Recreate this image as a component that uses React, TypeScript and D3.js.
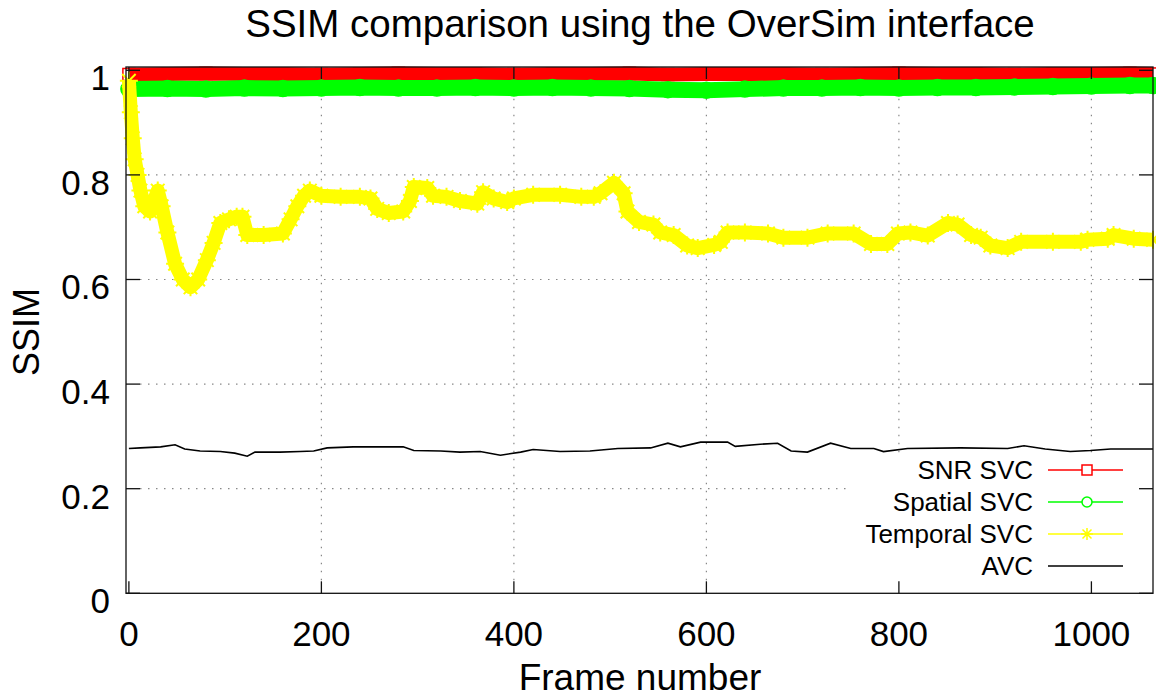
import { useEffect, useRef } from 'react';
import * as d3 from 'd3';

// Frame numbers / SSIM values
const temporalFrames = [0, 2, 4, 6, 9, 12, 16, 22, 30, 34, 40, 48, 56, 64, 72, 81, 88, 95, 104, 112, 118, 123, 140, 160, 168, 175, 182, 188, 200, 220, 240, 251, 258, 270, 285, 292, 296, 310, 316, 330, 344, 362, 368, 379, 393, 400, 420, 448, 470, 483, 490, 504, 514, 518, 530, 545, 552, 566, 580, 591, 608, 615, 622, 640, 664, 680, 705, 726, 753, 771, 788, 799, 812, 830, 851, 861, 875, 885, 895, 913, 927, 960, 989, 996, 1017, 1023, 1044, 1064];
const temporalSSIM = [0.98, 0.92, 0.87, 0.83, 0.8, 0.77, 0.74, 0.73, 0.77, 0.74, 0.69, 0.63, 0.6, 0.585, 0.6, 0.637, 0.67, 0.708, 0.715, 0.72, 0.72, 0.685, 0.685, 0.688, 0.715, 0.74, 0.76, 0.77, 0.76, 0.758, 0.758, 0.755, 0.735, 0.727, 0.73, 0.75, 0.777, 0.775, 0.76, 0.758, 0.75, 0.745, 0.767, 0.755, 0.748, 0.755, 0.762, 0.762, 0.758, 0.758, 0.765, 0.785, 0.765, 0.73, 0.71, 0.705, 0.69, 0.685, 0.665, 0.66, 0.666, 0.672, 0.69, 0.69, 0.688, 0.68, 0.68, 0.688, 0.688, 0.668, 0.668, 0.688, 0.69, 0.684, 0.708, 0.705, 0.685, 0.68, 0.665, 0.66, 0.672, 0.672, 0.672, 0.676, 0.678, 0.685, 0.678, 0.676];

const avcFrames = [0, 12, 33, 48, 58, 74, 95, 110, 123, 131, 157, 178, 192, 206, 233, 261, 285, 296, 324, 344, 365, 386, 407, 420, 448, 479, 508, 542, 560, 573, 594, 622, 630, 656, 674, 688, 705, 729, 750, 774, 784, 809, 864, 913, 930, 952, 978, 999, 1020, 1064];
const avcSSIM = [0.277, 0.278, 0.28, 0.284, 0.276, 0.272, 0.271, 0.268, 0.262, 0.27, 0.27, 0.271, 0.272, 0.278, 0.28, 0.28, 0.28, 0.273, 0.272, 0.27, 0.271, 0.264, 0.27, 0.275, 0.271, 0.272, 0.277, 0.278, 0.287, 0.28, 0.289, 0.289, 0.281, 0.285, 0.287, 0.272, 0.27, 0.287, 0.277, 0.277, 0.271, 0.277, 0.278, 0.277, 0.282, 0.276, 0.271, 0.273, 0.276, 0.276];

const bandFrames = [0, 40, 80, 120, 160, 200, 240, 280, 320, 360, 400, 440, 480, 520, 560, 600, 640, 680, 720, 760, 800, 840, 880, 920, 960, 1000, 1040, 1064];
const snrSSIM = [0.992, 0.993, 0.994, 0.993, 0.993, 0.992, 0.993, 0.994, 0.993, 0.993, 0.992, 0.993, 0.993, 0.994, 0.992, 0.993, 0.993, 0.993, 0.992, 0.993, 0.994, 0.993, 0.993, 0.992, 0.993, 0.993, 0.994, 0.993];
const spatialSSIM = [0.964, 0.965, 0.964, 0.966, 0.965, 0.966, 0.967, 0.966, 0.966, 0.967, 0.966, 0.967, 0.966, 0.965, 0.963, 0.962, 0.964, 0.966, 0.966, 0.967, 0.966, 0.967, 0.967, 0.968, 0.969, 0.97, 0.971, 0.971];

const xTicks = [0, 200, 400, 600, 800, 1000];
const yTicks = [0, 0.2, 0.4, 0.6, 0.8, 1];
const seriesNames = ['SNR SVC', 'Spatial SVC', 'Temporal SVC', 'AVC'];

const FONT = '"Liberation Sans", Arial, sans-serif';

export default function App() {
  const ref = useRef<SVGSVGElement>(null);

  useEffect(() => {
    if (!ref.current) return;
    const svg = d3.select(ref.current);
    svg.selectAll('*').remove();

    const left = 126, right = 1153, top = 67, bottom = 593.3;
    const x = d3.scaleLinear().domain([-3, 1064]).range([left, right]);
    const y = d3.scaleLinear().domain([0, 1.0063]).range([bottom, top]);

    svg.append('rect').attr('width', 1156).attr('height', 698).attr('fill', '#fff');

    // grid
    const grid = svg.append('g').attr('stroke', '#888').attr('stroke-width', 1.2).attr('stroke-dasharray', '1.5,6.5');
    xTicks.filter(t => t > 0).forEach(t => {
      grid.append('line').attr('x1', x(t)).attr('x2', x(t)).attr('y1', bottom - 13).attr('y2', top + 13);
    });
    yTicks.filter(t => t > 0 && t < 1).forEach(t => {
      grid.append('line').attr('x1', left + 14).attr('x2', right - 14).attr('y1', y(t)).attr('y2', y(t));
    });

    const pts = (fr: number[], vals: number[]) => fr.map((f, i) => [f, vals[i]] as [number, number]);
    const line = d3.line<[number, number]>().x(d => x(d[0])).y(d => y(d[1]));

    // SNR SVC (red squares)
    const snr = pts(bandFrames, snrSSIM);
    svg.append('path').attr('d', line(snr)).attr('fill', 'none').attr('stroke', '#ff0000').attr('stroke-width', 14);
    svg.selectAll('.sq').data(snr).enter().append('rect')
      .attr('x', d => x(d[0]) - 6).attr('y', d => y(d[1]) - 6).attr('width', 12).attr('height', 12)
      .attr('fill', 'none').attr('stroke', '#ff0000').attr('stroke-width', 1.5);

    // Spatial SVC (green circles)
    const spa = pts(bandFrames, spatialSSIM);
    svg.append('path').attr('d', line(spa)).attr('fill', 'none').attr('stroke', '#00ff00').attr('stroke-width', 16);
    svg.selectAll('.ci').data(spa).enter().append('circle')
      .attr('cx', d => x(d[0])).attr('cy', d => y(d[1])).attr('r', 8)
      .attr('fill', '#00ff00').attr('stroke', '#00ff00').attr('stroke-width', 1.5);

    // Temporal SVC (yellow stars)
    const star = (s: number) => `M${-s},0H${s}M0,${-s}V${s}M${-s * 0.75},${-s * 0.75}L${s * 0.75},${s * 0.75}M${-s * 0.75},${s * 0.75}L${s * 0.75},${-s * 0.75}`;
    const tem = pts(temporalFrames, temporalSSIM);
    svg.append('path').attr('d', line(tem)).attr('fill', 'none').attr('stroke', '#ffff00')
      .attr('stroke-width', 14).attr('stroke-linejoin', 'round');
    svg.selectAll('.st').data(tem).enter().append('path')
      .attr('transform', d => `translate(${x(d[0])},${y(d[1])})`)
      .attr('d', star(9)).attr('fill', 'none').attr('stroke', '#ffff00').attr('stroke-width', 2);

    // AVC (black)
    svg.append('path').attr('d', line(pts(avcFrames, avcSSIM))).attr('fill', 'none')
      .attr('stroke', '#000').attr('stroke-width', 1.6);

    // legend (opaque)
    svg.append('rect').attr('x', 852).attr('y', 454).attr('width', 290).attr('height', 128).attr('fill', '#fff');
    const colors = ['#ff0000', '#00ff00', '#ffff00', '#000000'];
    seriesNames.forEach((name, i) => {
      const ly = 470 + i * 32;
      svg.append('text').attr('x', 1033).attr('y', ly + 9).attr('text-anchor', 'end')
        .style('font-family', FONT).style('font-size', '26px').attr('fill', '#000').text(name);
      svg.append('line').attr('x1', 1048).attr('x2', 1123).attr('y1', ly).attr('y2', ly)
        .attr('stroke', colors[i]).attr('stroke-width', 1.5);
      if (i === 0) svg.append('rect').attr('x', 1082).attr('y', ly - 5).attr('width', 10).attr('height', 10)
        .attr('fill', '#fff').attr('stroke', colors[i]).attr('stroke-width', 1.5);
      if (i === 1) svg.append('circle').attr('cx', 1087).attr('cy', ly).attr('r', 5)
        .attr('fill', '#fff').attr('stroke', colors[i]).attr('stroke-width', 1.5);
      if (i === 2) svg.append('path').attr('transform', `translate(1087,${ly})`).attr('d', star(6))
        .attr('fill', 'none').attr('stroke', colors[i]).attr('stroke-width', 1.5);
    });

    // border + ticks (mirrored, inward)
    const ax = svg.append('g').attr('stroke', '#111').attr('stroke-width', 1.3).attr('fill', 'none');
    ax.append('rect').attr('x', left).attr('y', top).attr('width', right - left).attr('height', bottom - top);
    xTicks.forEach(t => {
      ax.append('line').attr('x1', x(t)).attr('x2', x(t)).attr('y1', bottom).attr('y2', bottom - 12);
      ax.append('line').attr('x1', x(t)).attr('x2', x(t)).attr('y1', top).attr('y2', top + 12);
    });
    yTicks.forEach(t => {
      ax.append('line').attr('x1', left).attr('x2', left + 14).attr('y1', y(t)).attr('y2', y(t));
      ax.append('line').attr('x1', right).attr('x2', right - 14).attr('y1', y(t)).attr('y2', y(t));
    });

    // tick labels
    xTicks.forEach(t => {
      svg.append('text').attr('x', x(t)).attr('y', 646).attr('text-anchor', 'middle')
        .style('font-family', FONT).style('font-size', '35px').text(String(t));
    });
    yTicks.forEach(t => {
      svg.append('text').attr('x', 110).attr('y', y(t) + 20).attr('text-anchor', 'end')
        .style('font-family', FONT).style('font-size', '35px').text(d3.format('~g')(t));
    });

    // titles
    svg.append('text').attr('x', 640).attr('y', 37).attr('text-anchor', 'middle')
      .style('font-family', FONT).style('font-size', '38.5px').text('SSIM comparison using the OverSim interface');
    svg.append('text').attr('x', 640).attr('y', 690).attr('text-anchor', 'middle')
      .style('font-family', FONT).style('font-size', '37px').text('Frame number');
    svg.append('text').attr('transform', 'translate(39,332) rotate(-90)').attr('text-anchor', 'middle')
      .style('font-family', FONT).style('font-size', '36px').text('SSIM');
  }, []);

  return (
    <svg ref={ref} width={1156} height={698} style={{ position: 'absolute', left: 0, top: 0 }} />
  );
}
